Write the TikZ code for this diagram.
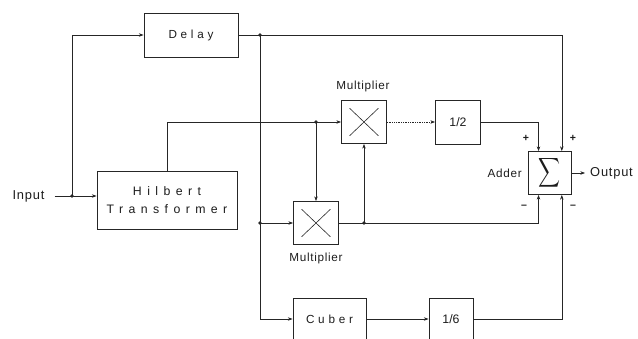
\documentclass[tikz,border=0pt]{standalone}
\usepackage{fontspec}
\setmainfont{Liberation Sans}
\newfontfamily\spacedfont[LetterSpace=32]{Liberation Sans}
\newfontfamily\widefont[LetterSpace=44]{Liberation Sans}
\newfontfamily\loosefont[LetterSpace=6]{Liberation Sans}
\usepackage{graphicx}
\usetikzlibrary{arrows.meta,calc}
\definecolor{scanLine}{HTML}{262626}
\definecolor{scanText}{HTML}{1C1C1C}

\tikzset{
  blockbox/.style={draw=scanLine, line width=0.8pt, fill=white, inner sep=0pt,
    align=center, text=scanText, font=\spacedfont\fontsize{10}{15}\selectfont},
  mulbox/.style={draw=scanLine, line width=0.8pt, fill=white, inner sep=0pt,
    minimum width=1.35cm, minimum height=1.29cm,
    path picture={
      \draw[scanLine, line width=0.5pt]
        ($(path picture bounding box.south west)!0.18!(path picture bounding box.north east)$)
        -- ($(path picture bounding box.south west)!0.82!(path picture bounding box.north east)$);
      \draw[scanLine, line width=0.5pt]
        ($(path picture bounding box.north west)!0.18!(path picture bounding box.south east)$)
        -- ($(path picture bounding box.north west)!0.82!(path picture bounding box.south east)$);
    }},
  plaintext/.style={inner sep=0pt, text=scanText, font=\loosefont\fontsize{11}{13}\selectfont},
  smalltext/.style={inner sep=0pt, text=scanText, font=\loosefont\fontsize{10}{12}\selectfont},
  signtext/.style={inner sep=0pt, text=scanText, font=\bfseries\fontsize{9}{11}\selectfont},
  wire/.style={draw=scanLine, line width=0.5pt},
  feed/.style={wire, -{Stealth[length=4pt, width=3pt]}},
}

\begin{document}
\begin{tikzpicture}[x=0.03cm, y=-0.03cm]
\useasboundingbox (0,0) rectangle (638,339);

% --- BLOCKS ---
\node[blockbox, minimum width=2.82cm, minimum height=1.32cm] (delay) at (191,35) {Delay};
\node[blockbox, minimum width=4.2cm, minimum height=1.74cm,
  font=\widefont\fontsize{10.5}{15}\selectfont] (hilbert) at (167,200) {Hilbert\\Transformer};
\node[mulbox] (mul1) at (364,122) {};
\node[mulbox] (mul2) at (316,223) {};
\node[blockbox, minimum width=1.35cm, minimum height=1.32cm,
  font=\fontsize{10.5}{12}\selectfont] (half) at (458,122) {1/2};
\node[blockbox, minimum size=1.29cm] (sum) at (549.5,173)
  {\scalebox{1.3}[1.75]{$\displaystyle\sum$}};
\node[blockbox, minimum width=2.19cm, minimum height=1.26cm] (cuber) at (329.5,319) {Cuber};
\node[blockbox, minimum width=1.32cm, minimum height=1.26cm,
  font=\fontsize{10.5}{12}\selectfont] (sixth) at (451,319) {1/6};

% --- TEXT LABELS ---
\node[plaintext] (input) at (28.5,196) {Input};
\node[plaintext, anchor=west] (output) at (590,173) {Output};
\node[smalltext] (mullab1) at (363,86) {Multiplier};
\node[smalltext] (mullab2) at (316,258) {Multiplier};
\node[smalltext, anchor=east] (adder) at (522,173) {Adder};
\node[signtext] (plusA) at (526,138) {+};
\node[signtext] (plusB) at (573,138) {+};
\node[signtext] (minusA) at (524,207) {--};
\node[signtext] (minusB) at (573,207) {--};

% --- JUNCTIONS ---
\coordinate (jin) at (72,196);
\coordinate (jd) at (260,35);
\coordinate (jm) at (260,223);
\coordinate (jh) at (316,122);
\coordinate (jp) at (364,223);
\coordinate (sumTL) at ($(sum.north west)!0.25!(sum.north east)$);
\coordinate (sumTR) at ($(sum.north west)!0.78!(sum.north east)$);
\coordinate (sumBL) at ($(sum.south west)!0.25!(sum.south east)$);
\coordinate (sumBR) at ($(sum.south west)!0.78!(sum.south east)$);
\coordinate (outEnd) at ([xshift=-0.15cm]output.west);

% --- CONNECTORS ---
\draw[wire, shorten <=0.3cm] (jin -| input.east) -- (jin);
\draw[feed] (jin) -- (jin -| hilbert.west);
\draw[feed] (jin) |- (delay.west);
\draw[wire] (delay.east) -- (jd);
\draw[feed] (jd) -| (sumTR);
\draw[wire] (jd) -- (jm);
\draw[feed] (jm) |- (cuber.west);
\draw[feed] (jm) -- (mul2.west);
\draw[wire] (hilbert.north) |- (jh);
\draw[feed] (jh) -- (mul1.west);
\draw[feed] (jh) -- (mul2.north);
\draw[wire] (mul2.east) -- (jp);
\draw[feed] (jp) -- (mul1.south);
\draw[feed] (jp) -| (sumBL);
\draw[feed, densely dotted] (mul1.east) -- (half.west);
\draw[feed] (half.east) -| (sumTL);
\draw[feed] (cuber.east) -- (sixth.west);
\draw[feed] (sixth.east) -| (sumBR);
\draw[feed] (sum.east) -- (outEnd);

% --- DOTS ---
\foreach \j in {jin, jd, jm, jh, jp}
  \fill[scanLine] (\j) circle (1.5pt);

\end{tikzpicture}
\end{document}
